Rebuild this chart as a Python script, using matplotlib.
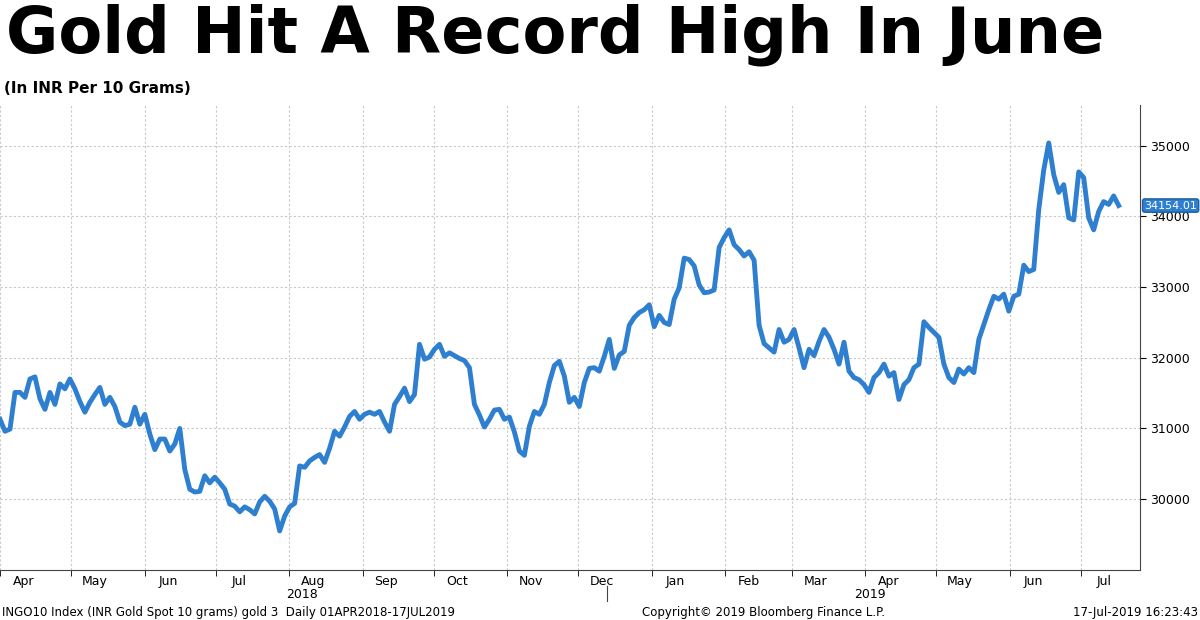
import matplotlib
matplotlib.use("Agg")
import matplotlib.pyplot as plt
import pandas as pd

values = [31130,30960,30990,31510,31510,31440,31700,31730,31420,31270,31510,31340,31630,31560,31700,31560,31380,31230,31370,31480,31580,31340,31440,31310,31090,31040,31060,31300,31060,31200,30920,30700,30850,30850,30680,30780,31000,30420,30140,30100,30110,30330,30230,30310,30230,30140,29930,29900,29820,29890,29850,29790,29960,30040,29970,29860,29550,29760,29890,29940,30470,30450,30540,30590,30630,30520,30720,30960,30890,31020,31170,31240,31130,31200,31230,31200,31240,31090,30960,31340,31450,31570,31380,31480,32190,31980,32010,32120,32190,32020,32070,32030,31990,31960,31860,31340,31190,31020,31130,31260,31270,31130,31160,30950,30680,30620,31030,31240,31200,31340,31650,31890,31950,31740,31370,31440,31310,31650,31850,31860,31810,32020,32260,31850,32040,32090,32460,32570,32640,32680,32750,32440,32600,32500,32470,32830,32990,33410,33390,33300,33030,32920,32930,32960,33560,33700,33810,33600,33530,33440,33500,33380,32460,32200,32140,32080,32400,32220,32260,32400,32140,31860,32120,32030,32230,32400,32290,32120,31910,32220,31810,31720,31690,31620,31510,31720,31790,31910,31740,31790,31410,31620,31690,31860,31910,32510,32430,32360,32290,31910,31720,31650,31840,31770,31860,31790,32260,32470,32680,32870,32830,32900,32660,32870,32900,33310,33220,33250,34100,34660,35040,34590,34340,34450,33980,33950,34630,34550,33980,33810,34070,34210,34170,34290,34154.01]
start, end = "2018-04-01", "2019-07-17"
yticks = [30000, 31000, 32000, 33000, 34000, 35000]
month_labels = ["Apr","May","Jun","Jul","Aug","Sep","Oct","Nov","Dec","Jan","Feb","Mar","Apr","May","Jun","Jul"]

dates = pd.date_range(start, end, periods=len(values))

fig = plt.figure(figsize=(12, 6.2), dpi=100)
ax = fig.add_axes([0.0, 0.081, 0.95, 0.75])
ax.plot(dates, values, color="#2f7fd0", lw=3.5, solid_joinstyle="round")
ax.set_xlim(pd.Timestamp("2018-04-01"), pd.Timestamp("2019-07-26"))
ax.set_ylim(29000, 35580)
ax.yaxis.tick_right()
ax.set_yticks(yticks)
ax.set_yticklabels([str(v) for v in yticks], fontsize=9)
ax.tick_params(axis="y", direction="out", length=4)
ms = pd.date_range("2018-04-01", "2019-07-01", freq="MS")
ax.set_xticks(ms, minor=True)
ax.set_xticks(ms + pd.Timedelta(days=10))
ax.set_xticklabels(month_labels, fontsize=9)
ax.tick_params(axis="x", which="major", length=0, pad=4)
ax.tick_params(axis="x", which="minor", length=4)
ax.grid(True, which="minor", axis="x", ls=(0, (2, 2)), color="#c8c8c8", lw=0.8)
ax.grid(True, which="major", axis="y", ls=(0, (2, 2)), color="#c8c8c8", lw=0.8)
for s in ["top", "left"]:
    ax.spines[s].set_visible(False)
ax.spines["bottom"].set_color("#444")
ax.spines["right"].set_color("#444")

ax.annotate(f"{values[-1]:.2f}", xy=(1.0, values[-1]), xycoords=("axes fraction", "data"),
            xytext=(3, 0), textcoords="offset points", va="center", ha="left", fontsize=8,
            color="white", bbox=dict(boxstyle="round,pad=0.15,rounding_size=0.2", fc="#2f7fd0", ec="#1a5fa0"))

fig.text(0.252, 0.035, "2018", ha="center", fontsize=9)
fig.text(0.725, 0.035, "2019", ha="center", fontsize=9)
fig.add_artist(plt.Line2D([0.506, 0.506], [0.03, 0.055], color="#444", lw=0.8))
fig.text(0.005, 0.995, "Gold Hit A Record High In June", fontsize=46, fontweight="bold", va="top", ha="left")
fig.text(0.003, 0.845, "(In INR Per 10 Grams)", fontsize=11, fontweight="bold", va="bottom", ha="left")
fig.text(0.002, 0.006, "INGO10 Index (INR Gold Spot 10 grams) gold 3  Daily 01APR2018-17JUL2019", fontsize=8.5)
fig.text(0.535, 0.006, "Copyright© 2019 Bloomberg Finance L.P.", fontsize=8.5)
fig.text(0.998, 0.006, "17-Jul-2019 16:23:43", fontsize=8.5, ha="right")
fig.savefig("out.png", dpi=100, facecolor="white")
